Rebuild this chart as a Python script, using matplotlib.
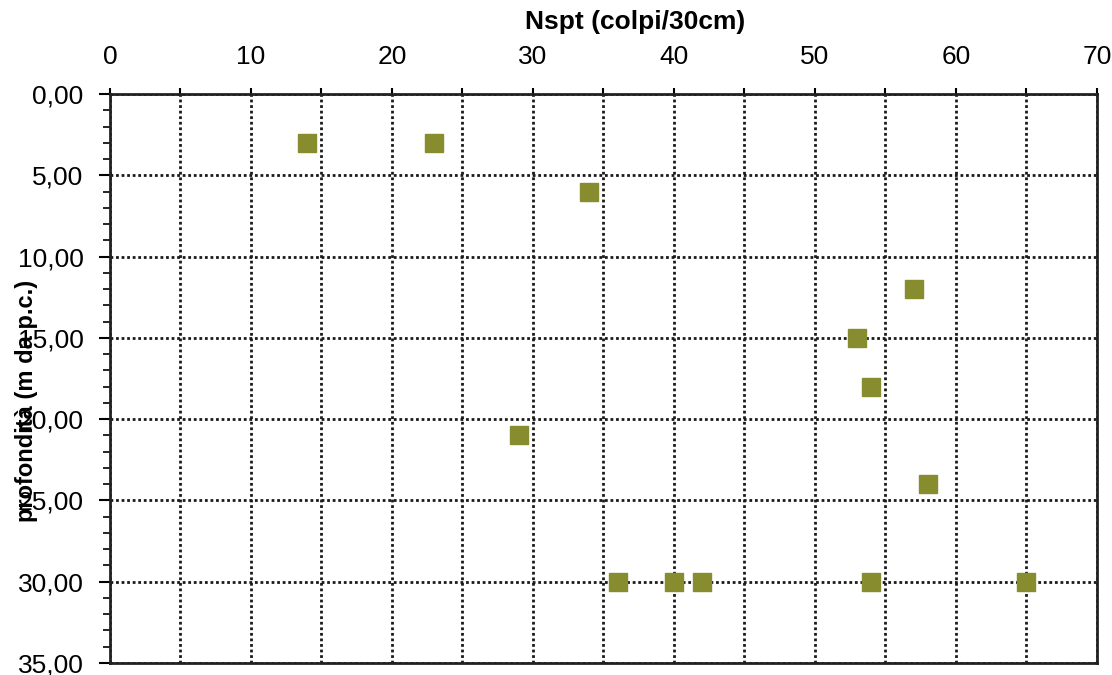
import matplotlib.pyplot as plt
from matplotlib.ticker import MultipleLocator, FuncFormatter

# prova SPT: numero di colpi e profondita' di prova
nspt = [14, 23, 34, 57, 53, 54, 29, 58, 36, 40, 42, 54, 65]
depth = [3, 3, 6, 12, 15, 18, 21, 24, 30, 30, 30, 30, 30]

plt.rcParams['font.family'] = ['Liberation Sans', 'DejaVu Sans']

fig = plt.figure(figsize=(11.12, 6.75), dpi=100)
ax = fig.add_axes([0.0989, 0.0178, 0.8876, 0.8429])

ax.plot(nspt, depth, linestyle='none', marker='s', markersize=13,
        color='#878c2f', markeredgecolor='#878c2f', zorder=3)

ax.set_xlim(0, 70)
ax.set_ylim(35, 0)

ax.xaxis.tick_top()
ax.xaxis.set_label_position('top')
ax.xaxis.set_major_locator(MultipleLocator(10))
ax.xaxis.set_minor_locator(MultipleLocator(5))
ax.yaxis.set_major_locator(MultipleLocator(5))
ax.yaxis.set_minor_locator(MultipleLocator(1))
ax.yaxis.set_major_formatter(FuncFormatter(lambda v, p: f'{v:.2f}'.replace('.', ',')))

ax.tick_params(axis='x', which='major', length=4, width=1.5, pad=14, labelsize=19)
ax.tick_params(axis='x', which='minor', length=4, width=1.5)
ax.tick_params(axis='y', which='major', length=8, width=1.5, pad=11, labelsize=19)
ax.tick_params(axis='y', which='minor', length=5, width=1.2)

ax.grid(True, which='major', axis='y', color='#1a1a1a', linestyle=(0, (1, 1)), linewidth=2)
ax.grid(True, which='both', axis='x', color='#1a1a1a', linestyle=(0, (1, 1)), linewidth=2)

for s in ax.spines.values():
    s.set_linewidth(2)
    s.set_color('#222222')

ax.set_xlabel('Nspt (colpi/30cm)', fontsize=19, fontweight='bold')
ax.xaxis.set_label_coords(0.532, 1.115)
ax.set_ylabel('profondità (m da p.c.)', fontsize=17, fontweight='bold')
ax.yaxis.set_label_coords(-0.073, 0.46)

fig.savefig('out.png', dpi=100)
